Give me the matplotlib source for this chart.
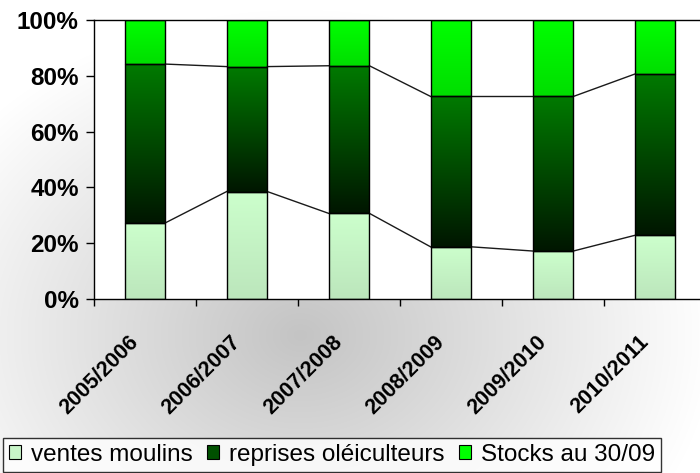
import numpy as np
import matplotlib
matplotlib.use("Agg")
import matplotlib.pyplot as plt
import matplotlib.transforms as mtransforms
from matplotlib.patches import Patch
from matplotlib.colors import LinearSegmentedColormap

plt.rcParams['font.family'] = ['Liberation Sans', 'DejaVu Sans']

# data (share of each use, %)
seasons = ['2005/2006', '2006/2007', '2007/2008', '2008/2009', '2009/2010', '2010/2011']
ventes = [27.3, 38.5, 30.7, 18.7, 17.2, 22.8]
reprises = [56.9, 44.8, 52.9, 53.9, 55.4, 57.8]
stocks = [15.8, 16.7, 16.4, 27.4, 27.4, 19.4]
series_names = ['ventes moulins', 'reprises oléiculteurs', 'Stocks au 30/09']

# gradient colours: (top, bottom)
grads = [((204/255, 1.0, 204/255), (188/255, 230/255, 188/255)),
         ((0, 122/255, 0), (0, 22/255, 0)),
         ((0, 1.0, 0), (0, 222/255, 0))]
legend_colors = ['#c8f5c8', '#005000', '#00ff00']

W, H = 700, 473
fig = plt.figure(figsize=(W / 100, H / 100), dpi=100)

# radial grey background
bg = fig.add_axes([0, 0, 1, 1], zorder=-5)
yy, xx = np.mgrid[0:H, 0:W]
r = np.sqrt(((xx - 300) / 420.0) ** 2 + ((yy - 335) / 330.0) ** 2)
val = np.clip(196 + 60 * r, 0, 255) / 255.0
bg.imshow(np.dstack([val, val, val]), extent=(0, W, H, 0), aspect='auto')
bg.set_xlim(0, W)
bg.set_ylim(H, 0)
bg.axis('off')

ax = fig.add_axes([94 / W, 1 - 299 / H, 612 / W, 279 / H])
ax.set_facecolor('white')

x = np.arange(len(seasons))
bw = 0.4
bottoms = np.zeros(len(seasons))
for vals, (top_c, bot_c) in zip([ventes, reprises, stocks], grads):
    bars = ax.bar(x, vals, bottom=bottoms, width=bw, color='none',
                  edgecolor='black', linewidth=1.0, zorder=3)
    cmap = LinearSegmentedColormap.from_list('g', [bot_c, top_c])
    grad = np.linspace(0, 1, 256).reshape(-1, 1)
    for b in bars:
        x0, y0 = b.get_x(), b.get_y()
        im = ax.imshow(grad, cmap=cmap, origin='lower', aspect='auto',
                       extent=(x0, x0 + b.get_width(), y0, y0 + b.get_height()),
                       zorder=2)
        im.set_clip_path(b)
    bottoms = bottoms + np.array(vals)

# series lines between bars
cum1 = np.array(ventes)
cum2 = cum1 + np.array(reprises)
for cum in [cum1, cum2]:
    for i in range(len(seasons) - 1):
        ax.plot([x[i] + bw / 2, x[i + 1] - bw / 2], [cum[i], cum[i + 1]],
                color='#1a1a1a', lw=1.0, zorder=2.5)

ax.set_xlim(-0.5, len(seasons) - 0.5)
ax.set_ylim(0, 100)
ax.set_yticks([0, 20, 40, 60, 80, 100])
ax.set_yticklabels(['%d%%' % v for v in [0, 20, 40, 60, 80, 100]],
                   fontsize=17.5, fontweight='bold')
ax.tick_params(axis='y', length=6, width=1, pad=5, direction='out')

ax.set_xticks(x)
ax.set_xticks(np.arange(-0.5, len(seasons), 1), minor=True)
ax.tick_params(axis='x', which='major', length=0)
ax.tick_params(axis='x', which='minor', length=5, width=1, direction='out')
ax.set_xticklabels(seasons, fontsize=15.5, fontweight='bold', rotation=45,
                   ha='right', va='top', rotation_mode='anchor')
offset = mtransforms.ScaledTranslation(-12 / 72, -20 / 72, fig.dpi_scale_trans)
for lab in ax.get_xticklabels():
    lab.set_transform(lab.get_transform() + offset)

for side in ['left', 'bottom', 'top']:
    ax.spines[side].set_color('black')
    ax.spines[side].set_linewidth(1.0)
ax.spines['right'].set_visible(False)

handles = [Patch(facecolor=c, edgecolor='black', linewidth=0.8) for c in legend_colors]
leg = fig.legend(handles, series_names, loc='lower left',
                 bbox_to_anchor=(3 / W, 1 / H), ncol=3, fontsize=17.5,
                 frameon=True, fancybox=False, edgecolor='black',
                 handlelength=0.5, handleheight=0.5, handletextpad=0.4,
                 columnspacing=0.6, borderpad=0.25, borderaxespad=0)
leg.get_frame().set_linewidth(1.0)
leg.get_frame().set_facecolor('white')

fig.savefig('out.png', dpi=100)
